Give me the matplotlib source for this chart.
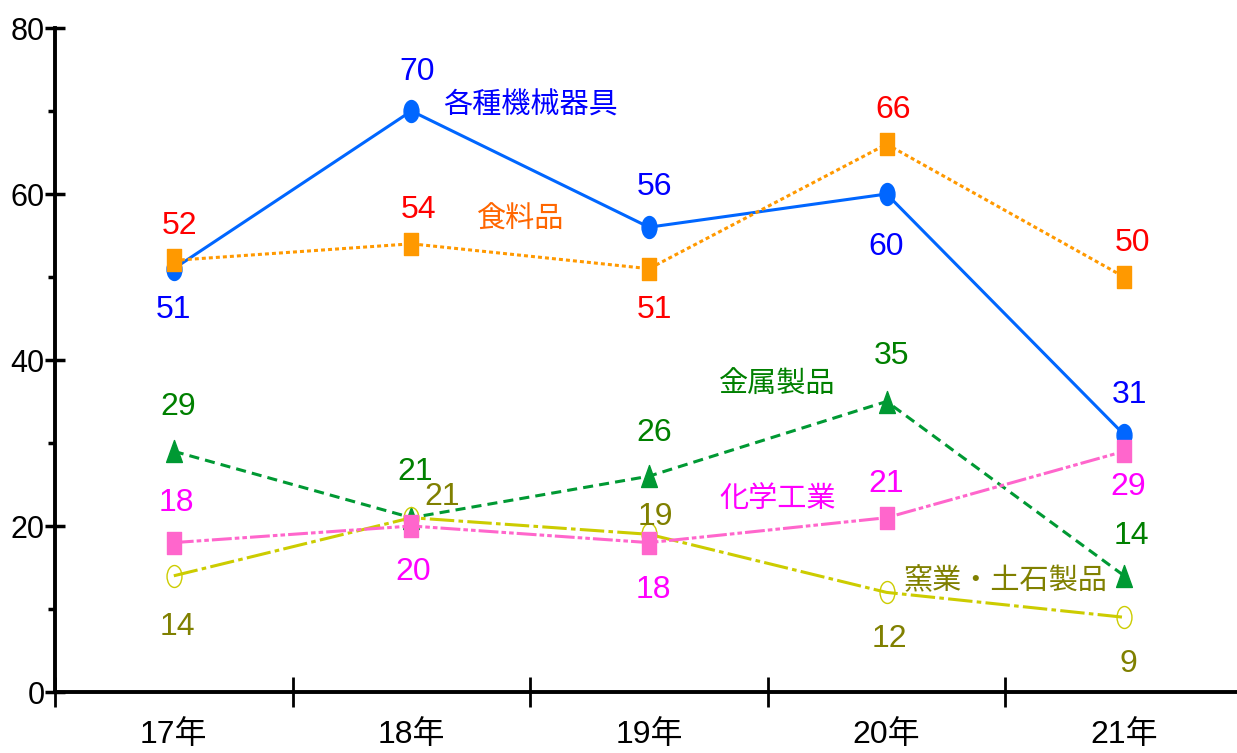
import matplotlib
matplotlib.use('Agg')
import matplotlib.pyplot as plt
import numpy as np
from matplotlib.path import Path
from matplotlib.transforms import Affine2D

plt.rcParams['font.family'] = ['Liberation Sans', 'Noto Sans CJK JP', 'DejaVu Sans']

years = ['17年', '18年', '19年', '20年', '21年']
kikai = [51, 70, 56, 60, 31]      # 各種機械器具
shokuryo = [52, 54, 51, 66, 50]   # 食料品
kinzoku = [29, 21, 26, 35, 14]    # 金属製品
yogyo = [14, 21, 19, 12, 9]       # 窯業・土石製品
kagaku = [18, 20, 18, 21, 29]     # 化学工業

# marker shapes (tall ellipse / rectangle / triangle)
ellipse = Path.unit_circle().transformed(Affine2D().scale(0.68, 1.0))
rect = Path([(-0.34, -0.5), (0.34, -0.5), (0.34, 0.5), (-0.34, 0.5), (-0.34, -0.5)],
            [Path.MOVETO, Path.LINETO, Path.LINETO, Path.LINETO, Path.CLOSEPOLY])
tri = Path([(-0.36, -0.5), (0.36, -0.5), (0.0, 0.5), (-0.36, -0.5)],
           [Path.MOVETO, Path.LINETO, Path.LINETO, Path.CLOSEPOLY])

# (values, line colour, text colour, linestyle, marker, filled, label offsets in px)
series = [
    (kikai, '#0066FF', '#0000FF', '-', ellipse, True,
     [(0, -41), (6, 39), (6, 40), (0, -53), (5, 40)]),
    (shokuryo, '#FF9900', '#FF0000', (0, (1.3, 1.0)), rect, True,
     [(6, 34), (7, 34), (6, -41), (7, 34), (8, 34)]),
    (kinzoku, '#009933', '#008000', (0, (3.3, 2.0)), tri, True,
     [(4, 44), (4, 46), (5, 43), (5, 45), (7, 40)]),
    (yogyo, '#CCCC00', '#808000', (0, (8, 1.4, 1.5, 1.4)), ellipse, False,
     [(4, -51), (31, 21), (6, 17), (3, -47), (4, -47)]),
    (kagaku, '#FF66CC', '#FF00FF', (0, (6.5, 1.0, 1.5, 1.0, 1.5, 1.0)), rect, True,
     [(3, 40), (2, -46), (4, -47), (0, 34), (4, -36)]),
]

fig = plt.figure(figsize=(12.37, 7.53), dpi=100)
ax = fig.add_axes([55 / 1237, 61 / 753, 1188 / 1237, 664 / 753])
x = np.arange(len(years))

for vals, lc, tc, ls, mk, filled, offs in series:
    ax.plot(x, vals, color=lc, lw=2.2, linestyle=ls, marker=mk, markersize=15.8,
            markerfacecolor=lc if filled else 'none', markeredgecolor=lc,
            markeredgewidth=1.0, clip_on=False)
    for xi, v, (dx, dy) in zip(x, vals, offs):
        ax.annotate(str(v), (xi, v), xytext=(dx, dy), textcoords='offset pixels',
                    ha='center', va='center', fontsize=23, color=tc)

# series names
ax.text(1.5, 70.7, '各種機械器具', color='#0000FF', fontsize=21, ha='center', va='center')
ax.text(1.46, 56.9, '食料品', color='#FF6600', fontsize=21, ha='center', va='center')
ax.text(2.54, 37.0, '金属製品', color='#008000', fontsize=21, ha='center', va='center')
ax.text(2.54, 23.3, '化学工業', color='#FF00FF', fontsize=21, ha='center', va='center')
ax.text(3.5, 13.4, '窯業・土石製品', color='#808000', fontsize=21, ha='center', va='center')

ax.set_xlim(-0.5, 4.5)
ax.set_ylim(0, 80)
ax.spines['top'].set_visible(False)
ax.spines['right'].set_visible(False)
ax.spines['left'].set_linewidth(2.8)
ax.spines['bottom'].set_linewidth(2.8)

ax.set_xticks(x)
ax.set_xticklabels(years)
ax.set_xticks(np.arange(-0.5, 4.6, 1.0), minor=True)
ax.tick_params(axis='x', which='major', length=0, pad=20, labelsize=23)
ax.tick_params(axis='x', which='minor', direction='inout', length=22, width=2)

ax.set_yticks([0, 20, 40, 60, 80])
ax.set_yticks([10, 30, 50, 70], minor=True)
ax.tick_params(axis='y', which='major', direction='inout', length=15, width=2.5, pad=0, labelsize=22)
ax.tick_params(axis='y', which='minor', direction='out', length=5, width=2.5)

fig.savefig('out.png', dpi=100)
